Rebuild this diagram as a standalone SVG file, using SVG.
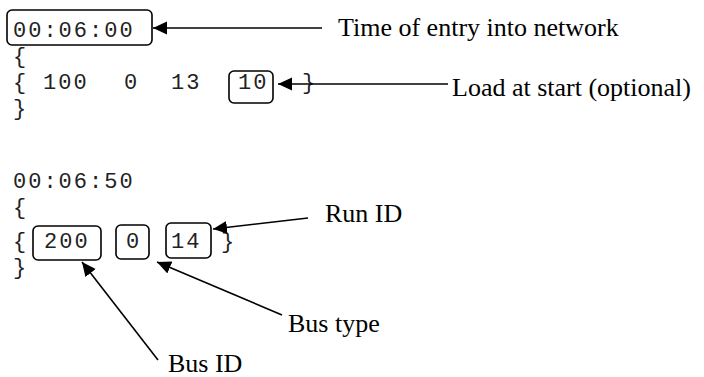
<svg xmlns="http://www.w3.org/2000/svg" width="704" height="377" viewBox="0 0 704 377">
<style>
.m{font-family:"Liberation Mono","Courier New",monospace;font-size:22px;letter-spacing:2px;fill:#222}
.s{font-family:"Liberation Serif","Times New Roman",serif;font-size:26px;fill:#000}
.b{fill:none;stroke:#000;stroke-width:1.6}
.c{fill:none;stroke:#000;stroke-width:1.6}
</style>
<defs>
<marker id="ah" markerUnits="userSpaceOnUse" markerWidth="16" markerHeight="14" refX="14" refY="6.5" orient="auto">
<path d="M0,0 L14,6.5 L0,13 Z" fill="#000"/>
</marker>
</defs>
<rect width="704" height="377" fill="#fff"/>
<g id="block1">
<text class="m" x="13" y="37">00:06:00</text>
<text class="m" x="13" y="63">{</text>
<text class="m" x="13" y="89">{</text>
<text class="m" x="43" y="89">100</text>
<text class="m" x="124" y="89">0</text>
<text class="m" x="171" y="89">13</text>
<text class="m" x="238" y="89">10</text>
<text class="m" x="302" y="89">}</text>
<text class="m" x="13" y="115">}</text>
</g>
<g id="box-time"><rect class="b" x="7" y="10" width="145" height="35" rx="5"/></g>
<g id="box-load"><rect class="b" x="229" y="71" width="44" height="32" rx="5"/></g>
<g id="block2">
<text class="m" x="13" y="188">00:06:50</text>
<text class="m" x="13" y="214">{</text>
<text class="m" x="13" y="248">{</text>
<text class="m" x="44" y="248">200</text>
<text class="m" x="126" y="248">0</text>
<text class="m" x="171" y="248">14</text>
<text class="m" x="221" y="248">}</text>
<text class="m" x="13" y="274">}</text>
</g>
<g id="box-busid"><rect class="b" x="33" y="226" width="68" height="34" rx="5"/></g>
<g id="box-bustype"><rect class="b" x="116" y="225" width="33" height="34" rx="5"/></g>
<g id="box-runid"><rect class="b" x="166" y="223" width="45" height="35" rx="5"/></g>
<g id="labels">
<text class="s" x="338" y="36">Time of entry into network</text>
<text class="s" x="452" y="96">Load at start (optional)</text>
<text class="s" x="325" y="222">Run ID</text>
<text class="s" x="288" y="332">Bus type</text>
<text class="s" x="168" y="372">Bus ID</text>
</g>
<g id="connectors">
<line class="c" x1="322" y1="28" x2="153" y2="28" marker-end="url(#ah)"/>
<line class="c" x1="448" y1="84" x2="278" y2="84" marker-end="url(#ah)"/>
<line class="c" x1="308" y1="218" x2="213" y2="229" marker-end="url(#ah)"/>
<line class="c" x1="282" y1="315" x2="157" y2="262" marker-end="url(#ah)"/>
<line class="c" x1="158" y1="360" x2="82" y2="262" marker-end="url(#ah)"/>
</g>
</svg>
